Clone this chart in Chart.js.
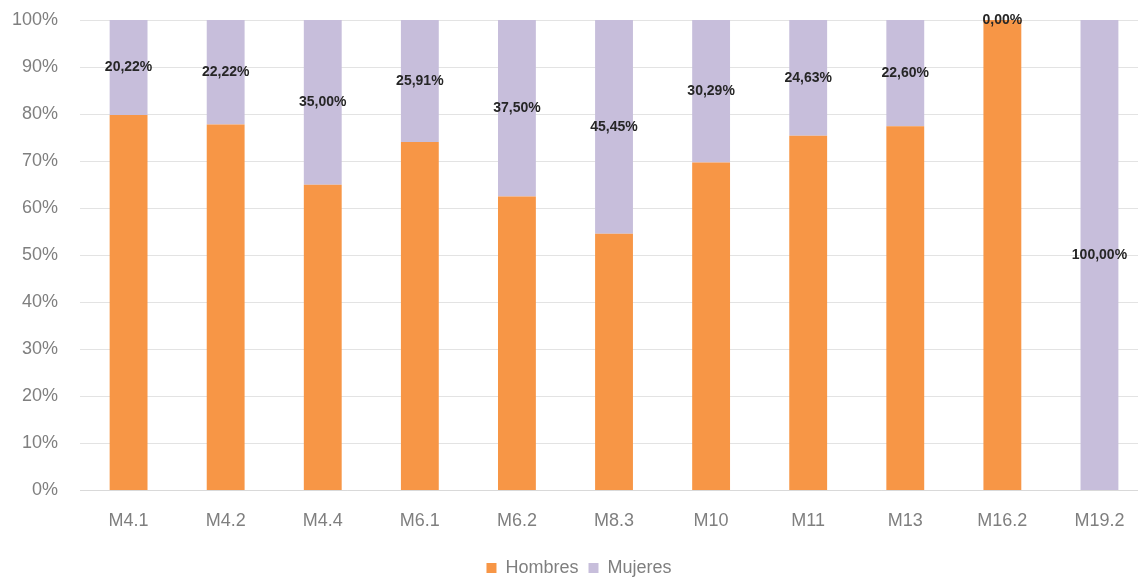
<!DOCTYPE html>
<html><head><meta charset="utf-8">
<script src="https://cdn.jsdelivr.net/npm/chart.js@4/dist/chart.umd.min.js"></script>
<style>
html,body{margin:0;padding:0;background:#fff;overflow:hidden;}
#wrap{width:1148px;height:587px;position:relative;}
</style></head>
<body>
<div id="wrap"><canvas id="c"></canvas></div>
<script>
const categories = ["M4.1","M4.2","M4.4","M6.1","M6.2","M8.3","M10","M11","M13","M16.2","M19.2"];
const hombres = [79.78, 77.78, 65.00, 74.09, 62.50, 54.55, 69.71, 75.37, 77.40, 100.00, 0.00];
const mujeres = [20.22, 22.22, 35.00, 25.91, 37.50, 45.45, 30.29, 24.63, 22.60, 0.00, 100.00];
const yTicks = [0,10,20,30,40,50,60,70,80,90,100];

const FONT = "'Liberation Sans','Arial',sans-serif";

const labelPlugin = {
  id: 'segLabels',
  afterDatasetsDraw(chart) {
    const ctx = chart.ctx;
    const meta = chart.getDatasetMeta(1);
    ctx.save();
    ctx.font = "bold 14px " + FONT;
    ctx.fillStyle = '#262626';
    ctx.textAlign = 'center';
    ctx.textBaseline = 'middle';
    meta.data.forEach((bar, i) => {
      const v = mujeres[i];
      const yMid = (bar.y + bar.base) / 2;
      ctx.fillText(v.toFixed(2).replace('.', ',') + '%', bar.x, yMid);
    });
    ctx.restore();
  }
};

new Chart(document.getElementById('c'), {
  type: 'bar',
  data: {
    labels: categories,
    datasets: [
      { label: 'Hombres', data: hombres, backgroundColor: '#F79646', barPercentage: 0.39, categoryPercentage: 1.0 },
      { label: 'Mujeres', data: mujeres, backgroundColor: '#C7BEDB', barPercentage: 0.39, categoryPercentage: 1.0 }
    ]
  },
  options: {
    responsive: true,
    maintainAspectRatio: false,
    animation: false,
    layout: { padding: { top: 20, left: 10, right: 0, bottom: 0 } },
    plugins: {
      legend: {
        position: 'bottom',
        labels: { boxWidth: 10, boxHeight: 10, color: '#7f7f7f', font: { family: FONT, size: 18 }, padding: 10 }
      },
      tooltip: { enabled: false }
    },
    scales: {
      x: {
        stacked: true,
        grid: { display: false },
        border: { color: '#d9d9d9' },
        ticks: { color: '#7f7f7f', font: { family: FONT, size: 18 }, padding: 12 },
        afterFit(scale) { scale.height += 5; }
      },
      y: {
        stacked: true,
        min: 0, max: 100,
        afterBuildTicks(axis) { axis.ticks = yTicks.map(v => ({ value: v })); },
        grid: { color: '#e3e3e3', drawTicks: true, tickLength: 20, tickColor: 'rgba(0,0,0,0)' },
        border: { display: false },
        ticks: { color: '#7f7f7f', font: { family: FONT, size: 18 }, padding: 2, callback: v => v + '%' }
      }
    }
  },
  plugins: [labelPlugin]
});
</script>
</body></html>
